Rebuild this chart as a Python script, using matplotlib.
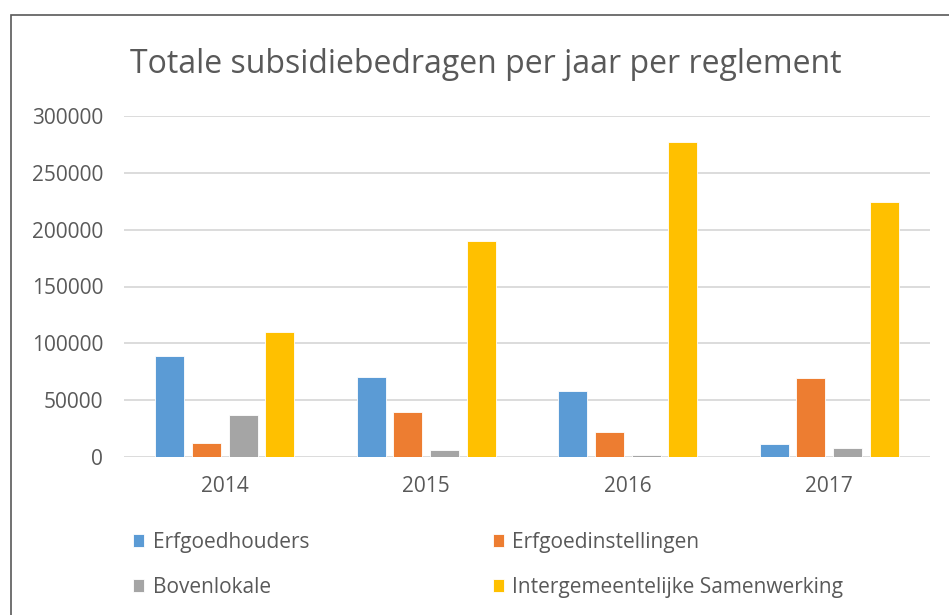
import numpy as np
import matplotlib
matplotlib.use("Agg")
import matplotlib.pyplot as plt
from matplotlib.patches import Rectangle

years = ["2014", "2015", "2016", "2017"]
series_names = ["Erfgoedhouders", "Erfgoedinstellingen", "Bovenlokale",
                "Intergemeentelijke Samenwerking"]
erfgoedhouders = [88500, 70500, 58000, 11500]
erfgoedinstellingen = [12000, 40000, 22000, 69500]
bovenlokale = [37000, 6000, 1500, 7500]
intergemeentelijk = [110000, 190000, 277000, 224000]
yticks = [0, 50000, 100000, 150000, 200000, 250000, 300000]
title = "Totale subsidiebedragen per jaar per reglement"

colors = ["#5B9BD5", "#ED7D31", "#A5A5A5", "#FFC000"]
txt = "#595959"
W, H = 949, 615
plt.rcParams['font.family'] = ['Open Sans', 'DejaVu Sans']

fig = plt.figure(figsize=(W / 100, H / 100), dpi=100)
ax = fig.add_axes([124 / W, 1 - 457 / H, (930 - 124) / W, (457 - 116) / H])

data = [erfgoedhouders, erfgoedinstellingen, bovenlokale, intergemeentelijk]
x = np.arange(len(years))
pitch, bw = 0.182, 0.144
bars = []
for i, (vals, name) in enumerate(zip(data, series_names)):
    b = ax.bar(x + (i - 1.5) * pitch, vals, bw, color=colors[i], label=name,
               edgecolor="white", linewidth=0.6, zorder=3)
    bars.append(b)

ax.set_xlim(-0.5, 3.5)
ax.set_ylim(0, 300000)
ax.set_yticks(yticks)
ax.set_yticklabels([str(v) for v in yticks])
ax.set_xticks(x)
ax.set_xticklabels(years)
for s in ax.spines.values():
    s.set_visible(False)
ax.yaxis.grid(True, color="#D9D9D9", linewidth=1.3, zorder=0)
ax.set_axisbelow(True)
ax.tick_params(axis="both", length=0, labelsize=15, colors=txt)
ax.tick_params(axis="y", pad=15)
ax.tick_params(axis="x", pad=14)

# title fitted to width
t = fig.text(486 / W, 1 - 72.7 / H, title, ha="center", va="baseline",
             fontsize=24, color=txt)
fig.canvas.draw()
r = fig.canvas.get_renderer()
w = t.get_window_extent(r).width
t.set_fontsize(24 * 713 / w)

order = [0, 2, 1, 3]
handles = [bars[i] for i in order]
labels = [series_names[i] for i in order]
leg = fig.legend(handles, labels, loc="upper left", ncol=2,
                 bbox_to_anchor=(133 / W, 1 - 532 / H), frameon=False,
                 fontsize=15, handlelength=0.55, handleheight=0.55,
                 handletextpad=0.4, labelspacing=1.15, columnspacing=8.8,
                 borderpad=0, borderaxespad=0)
for tx in leg.get_texts():
    tx.set_color(txt)

fig.patches.append(Rectangle((11 / W, -0.1), 1.2, 1 - 15 / H + 0.1,
                             transform=fig.transFigure, fill=False,
                             edgecolor="#595959", linewidth=1.2))

fig.savefig("out.png", dpi=100)
